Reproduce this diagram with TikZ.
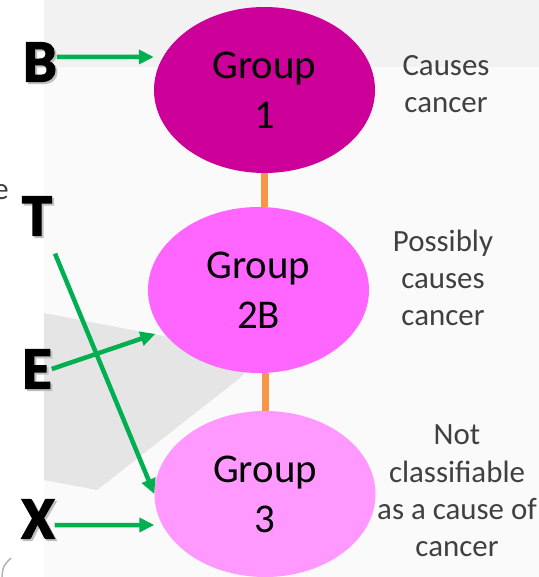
\documentclass[tikz,border=0pt]{standalone}
\usepackage{fontspec}
\setmainfont{Carlito}
\newfontfamily\agentfont{Carlito}[BoldFeatures={FakeBold=2.5}]
\usetikzlibrary{shapes.geometric,arrows.meta}
\definecolor{grpone}{HTML}{CC0099}
\definecolor{grptwob}{HTML}{FF66FF}
\definecolor{grpthree}{HTML}{FF99FF}
\definecolor{arrowgreen}{HTML}{00B050}
\definecolor{linkorange}{HTML}{F79646}
\definecolor{desctext}{HTML}{404040}
\newcommand{\shadowletter}[1]{\makebox[0pt][l]{\hspace{2pt}\raisebox{-2pt}[0pt][0pt]{\textcolor{black!25}{#1}}}#1}
\tikzset{
  groupnode/.style={ellipse, fill=#1, minimum width=221bp, minimum height=166bp, align=center, inner sep=0pt, font=\fontsize{41}{50}\selectfont},
  agent/.style={inner sep=0pt, font=\agentfont\fontsize{60}{60}\selectfont\bfseries},
  desc/.style={align=center, inner sep=0pt, text=desctext, font=\fontsize{31}{37.5}\selectfont},
  pointer/.style={draw=arrowgreen, line width=4.5bp, -{Triangle[length=15bp,width=14bp]}},
  link/.style={draw=linkorange, line width=7bp}
}
\begin{document}
\begin{tikzpicture}[x=1bp,y=-1bp]
% slide backdrop
\useasboundingbox (0,0) rectangle (539,577);
\fill[white] (0,0) rectangle (539,577);
\fill[black!2] (44,0) rectangle (539,577);
\fill[black!5] (44,0) rectangle (539,67);
\fill[black!10] (44,313) -- (262,355) -- (240,378) -- (97,490) -- (44,480) -- cycle;
\node[desc, anchor=base east] (frag) at (9,199) {e};
\draw[black!30, line width=1.5bp] (2,577) .. controls (3,566) .. (11,558);

% IARC groups
\node[groupnode=grpone] (g1) at (264.5,90) {Group\\1};
\node[groupnode=grptwob] (g2b) at (258.5,290) {Group\\2B};
\node[groupnode=grpthree] (g3) at (265,494) {Group\\3};
\draw[link] (g1.south) -- (g1.south |- g2b.north);
\draw[link] (g3.north |- g2b.south) -- (g3.north);

% meaning of each group
\node[desc] (d1) at (446,84) {Causes\\cancer};
\node[desc] (d2b) at (443,278) {Possibly\\causes\\cancer};
\node[desc] (d3) at (457,491) {Not\\classifiable\\as a cause of\\cancer};

% letters
\node[agent] (B) at (40,62) {\shadowletter{B}};
\node[agent] (T) at (37,216) {\shadowletter{T}};
\node[agent] (E) at (37,369) {\shadowletter{E}};
\node[agent] (X) at (38,519) {\shadowletter{X}};

\draw[pointer] ([yshift=5bp]B.east) -- ([yshift=33bp]g1.west);
\draw[pointer] ([shift={(3bp,-18bp)}]T.south east) -- (g3.west);
\draw[pointer] (E.east) -- ([xshift=-9bp]g2b.205);
\draw[pointer] ([yshift=-6bp]X.east) -- ([yshift=-31bp]g3.west);
\end{tikzpicture}
\end{document}
